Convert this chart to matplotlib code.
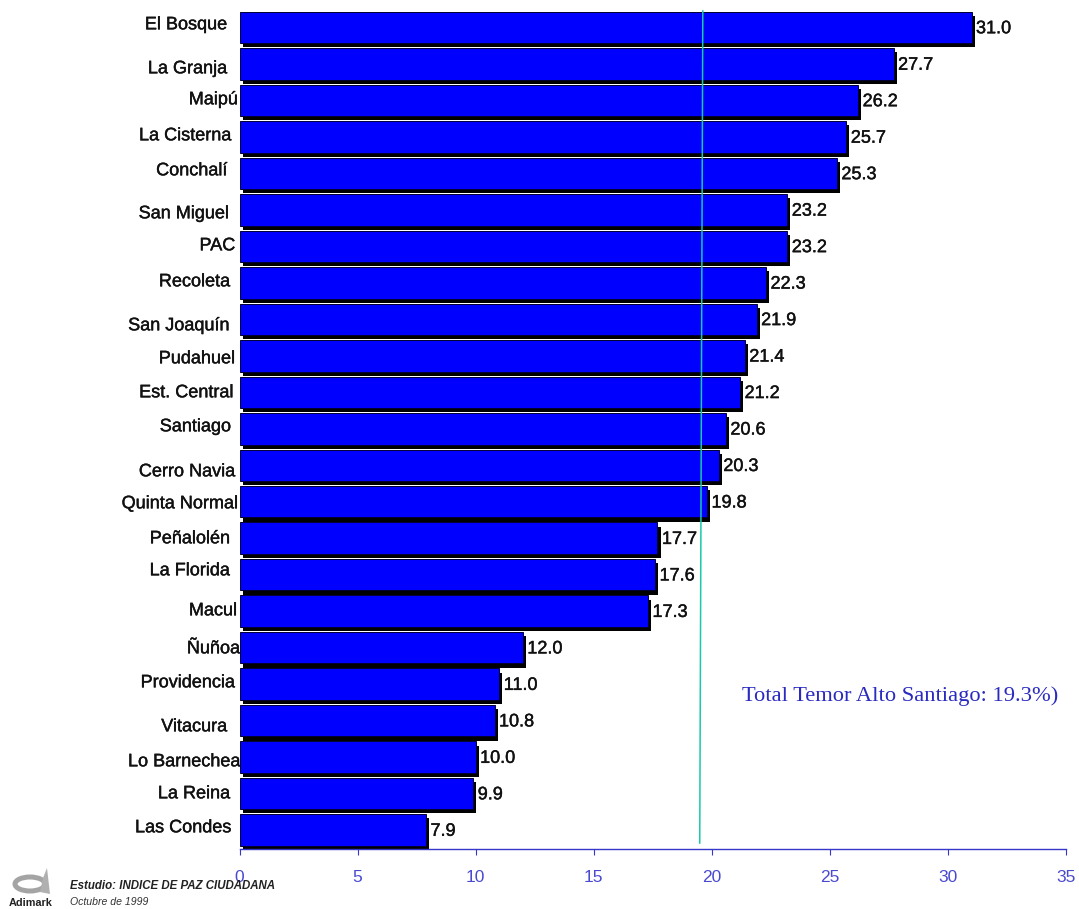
import matplotlib
matplotlib.use("Agg")
import matplotlib.pyplot as plt
import matplotlib.patheffects as pe
from matplotlib.patches import Ellipse, Polygon

comunas = ["El Bosque", "La Granja", "Maipú", "La Cisterna", "Conchalí", "San Miguel", "PAC",
           "Recoleta", "San Joaquín", "Pudahuel", "Est. Central", "Santiago", "Cerro Navia",
           "Quinta Normal", "Peñalolén", "La Florida", "Macul", "Ñuñoa", "Providencia",
           "Vitacura", "Lo Barnechea", "La Reina", "Las Condes"]
temor_alto = [31.0, 27.7, 26.2, 25.7, 25.3, 23.2, 23.2, 22.3, 21.9, 21.4, 21.2, 20.6, 20.3,
              19.8, 17.7, 17.6, 17.3, 12.0, 11.0, 10.8, 10.0, 9.9, 7.9]
ticks_x = [0, 5, 10, 15, 20, 25, 30, 35]

# Hand placement of the commune names, in canvas pixels
name_right = [227, 227, 238, 231, 227, 229, 235, 230, 229, 235, 233, 231, 235, 238, 230, 230,
              237, 240, 235, 227, 240, 230, 231]
name_y = [24, 68, 99, 135, 170, 213, 245, 281, 325, 358, 392, 426, 471, 503, 538, 570, 610,
          648, 682, 726, 761, 793, 827]

W, H = 1079, 909
fig = plt.figure(figsize=(W / 100, H / 100), dpi=100, facecolor="white")
plt.rcParams["font.family"] = ["Liberation Sans", "DejaVu Sans"]

left, right, top, bottom = 239.5, 1066, 8, 849
ax = fig.add_axes([left / W, 1 - bottom / H, (right - left) / W, (bottom - top) / H])
pitch = 36.48
first_centre = 27.5
ax.set_xlim(0, 35)
# y axis runs in bar slots; the first bar centre is fixed in pixels, the rest one pitch apart
ax.set_ylim((bottom - first_centre) / pitch, (top - first_centre) / pitch)

positions = list(range(len(comunas)))
bars = ax.barh(positions, temor_alto, height=31.5 / pitch, color="#0000ff",
               edgecolor="#000033", linewidth=0.7, zorder=2)
for bar in bars:
    bar.set_path_effects([pe.SimplePatchShadow(offset=(2.2, -3.0), shadow_rgbFace="black", alpha=1),
                          pe.Normal()])

# Citywide reference line, very slightly slanted
ax.plot([19.62, 19.49], [(11 - first_centre) / pitch, (843 - first_centre) / pitch],
        color="#19c9a8", lw=1.1, zorder=3)

ink = [pe.withStroke(linewidth=0.3, foreground="#111111")]
for y, v in zip(positions, temor_alto):
    ax.annotate(f"{v:.1f}", (v, y), xytext=(3.2, -0.9), textcoords="offset points", va="center",
                ha="left", fontsize=13, color="#111111", path_effects=ink, zorder=4)

for name, rx, py in zip(comunas, name_right, name_y):
    fig.text(rx / W, 1 - (py + 0.8) / H, name, ha="right", va="center", fontsize=13,
             color="#111111", path_effects=ink)

for s in ("top", "right", "left"):
    ax.spines[s].set_visible(False)
ax.spines["bottom"].set_color("#3636c8")
ax.spines["bottom"].set_linewidth(1.0)
ax.set_yticks([])
ax.set_xticks(ticks_x)
ax.tick_params(axis="x", direction="out", length=4.5, width=0.8, color="#3636c8",
               labelcolor="#4a4ad0", labelsize=12.5, pad=10.5)
ax.patch.set_alpha(0)

fig.text(742 / W, 1 - 696 / H, "Total Temor Alto Santiago: 19.3%)", family="Liberation Serif",
         fontsize=16.2, color="#2a2ac0", ha="left", va="center")

# Footer: study credit and logo
fig.text(70 / W, 1 - 886 / H, "Estudio: INDICE DE PAZ CIUDADANA", fontsize=8.3, style="italic",
         weight="bold", color="#222222", va="center", ha="left")
fig.text(70 / W, 1 - 902 / H, "Octubre de 1999", fontsize=7.6, style="italic", color="#333333",
         va="center", ha="left")
fig.text(9 / W, 1 - 903 / H, "Adimark", fontsize=7.8, weight="bold", color="#222222",
         va="center", ha="left")

logo = fig.add_axes([0, 0, 1, 1], facecolor="none")
logo.set_xlim(0, W)
logo.set_ylim(H, 0)
logo.axis("off")
logo.add_patch(Ellipse((30, 884), 30, 14, facecolor="none", edgecolor="#a4a4a4", lw=3.6))
logo.add_patch(Polygon([[47, 868], [50, 894], [40, 892], [43, 878]], closed=True,
                       facecolor="#b0b0b0", edgecolor="none"))

fig.savefig("out.png", dpi=100, facecolor="white")
